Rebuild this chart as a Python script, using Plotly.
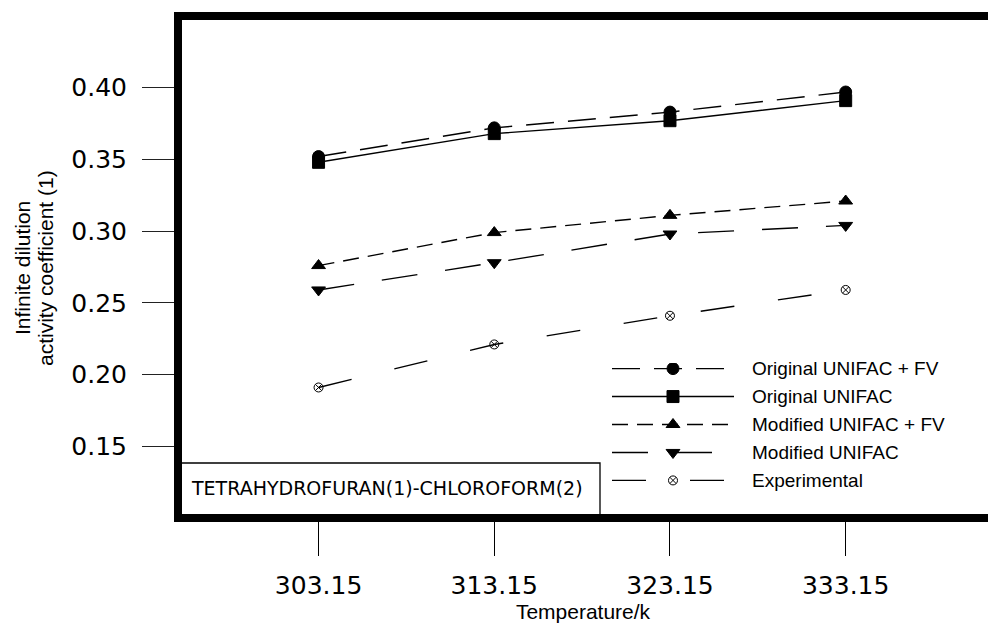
import plotly.graph_objects as go

# Temperatures (K) and infinite-dilution activity coefficients of THF (1) in chloroform (2)
temperature = [303.15, 313.15, 323.15, 333.15]
orig_unifac_fv = [0.352, 0.372, 0.383, 0.397]
orig_unifac = [0.348, 0.368, 0.377, 0.391]
mod_unifac_fv = [0.276, 0.299, 0.311, 0.321]
mod_unifac = [0.259, 0.278, 0.298, 0.304]
experimental = [0.191, 0.221, 0.241, 0.259]

x_ticks = [303.15, 313.15, 323.15, 333.15]
x_tick_labels = ["303.15", "313.15", "323.15", "333.15"]
y_ticks = [0.15, 0.20, 0.25, 0.30, 0.35, 0.40]
y_tick_labels = ["0.15", "0.20", "0.25", "0.30", "0.35", "0.40"]
y_title_lines = ["Infinite dilution", "activity coefficient (1)"]

series = [
    ("Original UNIFAC + FV", orig_unifac_fv, "circle", 12, "28px,14px"),
    ("Original UNIFAC", orig_unifac, "square", 12, "solid"),
    ("Modified UNIFAC + FV", mod_unifac_fv, "triangle-up", 12, "16px,9px"),
    ("Modified UNIFAC", mod_unifac, "triangle-down", 12, "36px,28px"),
    ("Experimental", experimental, "circle-x-open", 9, "34px,44px"),
]

W, H = 988, 634
L, T, B = 178, 16, 116
plot_w = W - L
plot_h = H - T - B

def px_x(px):
    return (px - L) / plot_w

def px_y(py):
    return (H - B - py) / plot_h

fig = go.Figure()

for name, vals, sym, size, dash in series:
    fig.add_trace(go.Scatter(
        x=temperature, y=vals, mode="lines+markers", name=name,
        line=dict(color="black", width=1.4, dash=dash),
        marker=dict(symbol=sym, size=size, color="black", opacity=1,
                    line=dict(color="black", width=1)),
        showlegend=False,
    ))

# Hand-built legend on its own small axis pair: long line samples with the marker in the middle
legend_rows = list(range(len(series)))
for row, (name, vals, sym, size, dash) in zip(legend_rows, series):
    fig.add_trace(go.Scatter(
        x=[0, 1], y=[row, row], mode="lines",
        xaxis="x2", yaxis="y2",
        line=dict(color="black", width=1.4, dash=dash),
        showlegend=False, hoverinfo="skip",
    ))
    fig.add_trace(go.Scatter(
        x=[0.5], y=[row], mode="markers",
        xaxis="x2", yaxis="y2",
        marker=dict(symbol=sym, size=size, color="black", opacity=1,
                    line=dict(color="black", width=1)),
        showlegend=False, hoverinfo="skip",
    ))

legend_font = dict(family="Liberation Sans, Arial, sans-serif", size=19, color="black")
title_font = dict(family="Liberation Sans, Arial, sans-serif", size=21, color="black")
tick_font = dict(family="DejaVu Sans", size=25, color="black")

annotations = []
for row, (name, *_rest) in zip(legend_rows, series):
    annotations.append(dict(
        x=px_x(750), y=row, xref="paper", yref="y2",
        text=name, showarrow=False, xanchor="left", yanchor="middle",
        font=legend_font,
    ))

# Two-line rotated y-axis title with tight line spacing
for line_x, line_text in zip([22, 45], y_title_lines):
    annotations.append(dict(
        x=px_x(line_x), y=px_y(268), xref="paper", yref="paper",
        text=line_text, textangle=-90, showarrow=False,
        xanchor="center", yanchor="middle", font=title_font,
    ))

# System label in the lower-left box
annotations.append(dict(
    x=px_x(189), y=px_y(488), xref="paper", yref="paper",
    text="TETRAHYDROFURAN(1)-CHLOROFORM(2)", showarrow=False,
    xanchor="left", yanchor="middle",
    font=dict(family="DejaVu Sans", size=19, color="black"),
))

frame_w = 8
shapes = [
    dict(type="rect", xref="paper", yref="paper", x0=0, x1=px_x(600),
         y0=0, y1=px_y(463), line=dict(color="black", width=1.3), fillcolor="white",
         layer="below"),
    dict(type="line", xref="paper", yref="paper", x0=0, x1=0, y0=-0.008, y1=1.008,
         line=dict(color="black", width=frame_w)),
    dict(type="line", xref="paper", yref="paper", x0=0, x1=1.01, y0=1, y1=1,
         line=dict(color="black", width=frame_w)),
    dict(type="line", xref="paper", yref="paper", x0=0, x1=1.01, y0=0, y1=0,
         line=dict(color="black", width=frame_w)),
]

fig.update_layout(
    width=W, height=H,
    margin=dict(l=L, r=0, t=T, b=B, pad=0),
    paper_bgcolor="white", plot_bgcolor="white",
    showlegend=False,
    xaxis=dict(
        range=[295.15, 341.25], tickmode="array", tickvals=x_ticks, ticktext=x_tick_labels,
        ticks="outside", ticklen=37, tickwidth=1.2, tickcolor="black",
        showgrid=False, zeroline=False, showline=False,
        tickfont=tick_font, ticklabelstandoff=8,
        title=dict(text="Temperature/k", font=title_font, standoff=2),
    ),
    yaxis=dict(
        range=[0.10, 0.45], tickmode="array", tickvals=y_ticks, ticktext=y_tick_labels,
        ticks="outside", ticklen=35, tickwidth=1.1, tickcolor="#222",
        showgrid=False, zeroline=False, showline=False,
        tickfont=tick_font, ticklabelstandoff=10,
    ),
    xaxis2=dict(domain=[px_x(612), px_x(734)], range=[0, 1], anchor="y2",
                visible=False, fixedrange=True),
    yaxis2=dict(domain=[px_y(486), px_y(363)], range=[4.2, -0.2], anchor="x2",
                visible=False, fixedrange=True),
    annotations=annotations,
    shapes=shapes,
)

fig.write_html("out.html")
